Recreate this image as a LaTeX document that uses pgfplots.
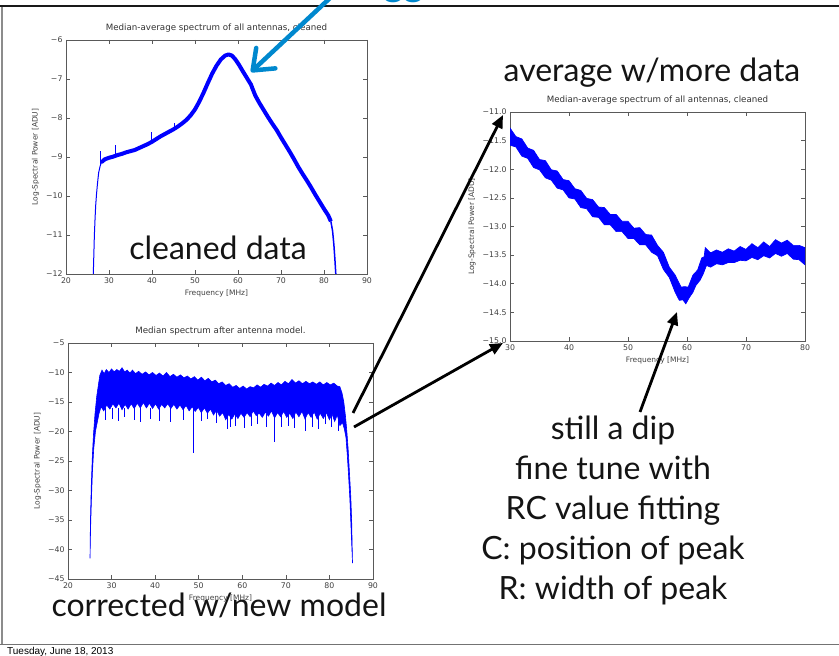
\documentclass[border=0pt]{standalone}
\usepackage{pgfplots}
\pgfplotsset{compat=1.18}
\usepackage{fontspec}
\usetikzlibrary{arrows.meta}
\newfontfamily\slidefont{Lato}
\newfontfamily\mplfont{DejaVu Sans}
\newfontfamily\datefont{Liberation Sans}
\definecolor{mplblue}{RGB}{0,0,255}
\definecolor{kblue}{RGB}{0,136,206}
\pgfplotsset{
  mpl/.style={
    scale only axis, anchor=south west,
    axis line style={black!65, line width=0.8pt},
    every tick/.style={black!65, line width=0.6pt},
    major tick length=4pt,
    tick align=inside,
    ticklabel style={font=\mplfont\fontsize{7.8}{9}\selectfont, text=black!75},
    label style={font=\mplfont\fontsize{7.5}{9}\selectfont, text=black!75},
    title style={font=\mplfont\fontsize{8.7}{10}\selectfont, text=black!80, inner sep=1pt},
    xlabel={Frequency [MHz]}, ylabel={Log-Spectral Power [ADU]},
    clip=true,
  },
}
\begin{document}
\begin{tikzpicture}[x=1pt,y=1pt]
\useasboundingbox (0,0) rectangle (839,656);
\clip (0,0) rectangle (839,656);

% top left: cleaned data
\begin{axis}[mpl, at={(66pt,382pt)}, width=301pt, height=234pt,
  xmin=20, xmax=90, ymin=-12, ymax=-6,
  xtick={20,30,...,90}, xticklabels={20,30,40,50,60,70,80,90},
  ytick={-12,-11,...,-6}, yticklabels={−12,−11,−10,−9,−8,−7,−6},
  title={Median-average spectrum of all antennas, cleaned}]
\addplot[mplblue, line width=1pt] coordinates {
  (26.3,-12.2) (26.45,-11.6) (26.6,-11.0) (26.75,-10.6) (26.9,-10.25)
  (27.1,-9.95) (27.35,-9.65) (27.6,-9.4) (27.9,-9.25) (28.2,-9.15)};
\addplot[mplblue, line width=4pt, line join=round, line cap=round] coordinates {
  (28.4,-9.12) (29,-9.06) (30,-9.02) (31,-8.99) (32,-8.95) (33,-8.92) (34,-8.88)
  (35,-8.85) (36,-8.82) (37,-8.77) (38,-8.72) (39,-8.67) (40,-8.61) (41,-8.54)
  (42,-8.47) (43,-8.41) (44,-8.35) (45,-8.29) (46,-8.22) (47,-8.14) (48,-8.05)
  (49,-7.93) (50,-7.78)};
\addplot[mplblue, line width=4pt, line join=round] coordinates {
  (50,-7.78) (51,-7.58) (52,-7.35) (53,-7.1) (54,-6.86) (55,-6.66) (56,-6.5)
  (57,-6.4) (57.8,-6.37) (58.6,-6.4) (59.4,-6.5) (60.2,-6.63) (61,-6.78)
  (62,-6.96) (63,-7.14) (64,-7.42) (65,-7.62) (66,-7.8) (67,-7.98) (68,-8.15)
  (69,-8.31) (70,-8.5) (71,-8.68) (72,-8.86) (73,-9.05) (74,-9.25) (75,-9.43)
  (76,-9.6) (77,-9.78) (78,-9.97) (79,-10.15) (80,-10.33) (81,-10.5) (81.6,-10.65)};
\addplot[mplblue, line width=1.5pt] coordinates {
  (81.6,-10.65) (82,-10.9) (82.3,-11.25) (82.55,-11.65) (82.8,-12.1)};
\addplot[mplblue, line width=0.7pt, unbounded coords=jump] coordinates {
  (27.9,-9.2) (27.9,-8.85) (27.9,nan)
  (31.4,-8.98) (31.4,-8.68) (31.4,nan)
  (39.9,-8.6) (39.9,-8.36) (39.9,nan)
  (45.2,-8.28) (45.2,-8.12) (45.2,nan)};
\end{axis}

% bottom left: corrected
\begin{axis}[mpl, at={(68pt,77pt)}, width=305pt, height=236pt,
  xmin=20, xmax=90, ymin=-45, ymax=-5,
  xtick={20,30,...,90}, xticklabels={20,30,40,50,60,70,80,90},
  ytick={-45,-40,...,-5}, yticklabels={−45,−40,−35,−30,−25,−20,−15,−10,−5},
  title={Median spectrum after antenna model.}]
\addplot[mplblue, fill=mplblue, line width=0.6pt] coordinates {
  (27.3,-10.5) (27.8,-9.6) (28.3,-10.2) (28.8,-9.5) (29.4,-10.0) (30,-9.4)
  (30.6,-9.9) (31.2,-9.5) (31.8,-9.8) (32.4,-9.2) (33,-9.9) (33.6,-9.6)
  (34.2,-10.1) (34.8,-9.6) (35.5,-10.2) (36.2,-9.8) (37,-10.3) (37.8,-9.9)
  (38.6,-10.4) (39.4,-10.0) (40.2,-10.5) (41,-10.1) (41.8,-10.6) (42.6,-10.0)
  (43.4,-10.7) (44.2,-10.3) (45,-10.8) (45.8,-10.4) (46.6,-10.9) (47.4,-10.6)
  (48.2,-11.1) (49,-10.7) (49.8,-11.3) (50.6,-10.8) (51.4,-11.4) (52.2,-11.0)
  (53,-11.6) (53.8,-11.3) (54.6,-11.9) (55.4,-11.6) (56.2,-12.2) (57,-11.9)
  (57.8,-12.5) (58.6,-12.2) (59.4,-12.7) (60.2,-12.3) (61,-12.8) (61.8,-12.4)
  (62.6,-12.6) (63.4,-12.1) (64.2,-12.5) (65,-12.0) (65.8,-12.3) (66.6,-11.8)
  (67.4,-12.2) (68.2,-11.7) (69,-12.1) (69.8,-11.5) (70.6,-11.9) (71.4,-11.2)
  (72.2,-11.8) (73,-11.4) (73.8,-11.9) (74.6,-11.5) (75.4,-11.9) (76.2,-11.6)
  (77,-12.0) (77.8,-11.6) (78.6,-12.1) (79.4,-11.7) (80.2,-12.1) (81,-11.8)
  (81.8,-12.3) (82.4,-12.4)
  (82.9,-13.5) (83.3,-15) (83.7,-17.5) (84.0,-20) (84.3,-23) (84.6,-27)
  (84.9,-31) (85.1,-35) (85.3,-42.3)
  (85.0,-37) (84.7,-31.5) (84.4,-27.5) (84.1,-24) (83.8,-21) (83.4,-19.5) (83.0,-18.5)
  (82.4,-19) (81.8,-17.2) (81.2,-18.3) (80.6,-17.0) (80,-18.0) (79.3,-16.8)
  (78.6,-17.8) (77.9,-16.9) (77.2,-17.9) (76.5,-16.7) (75.8,-17.6) (75.1,-16.8)
  (74.4,-17.9) (73.7,-16.6) (73,-17.5) (72.3,-16.7) (71.6,-17.8) (70.9,-16.9)
  (70.2,-17.6) (69.5,-16.6) (68.8,-17.5) (68.1,-16.8) (67.4,-17.7) (66.7,-16.5)
  (66,-17.4) (65.3,-16.7) (64.6,-17.6) (63.9,-16.9) (63.2,-17.3) (62.5,-16.5)
  (61.8,-17.5) (61.1,-16.8) (60.4,-17.6) (59.7,-16.9) (59,-17.8) (58.3,-17.0)
  (57.6,-17.9) (56.9,-17.1) (56.2,-18.0) (55.5,-16.8) (54.8,-17.4) (54.1,-16.4)
  (53.4,-17.2) (52.7,-16.2) (52,-16.9) (51.3,-16.0) (50.6,-16.8) (49.9,-15.9)
  (49.2,-16.6) (48.5,-15.8) (47.8,-16.5) (47.1,-15.6) (46.4,-16.3) (45.7,-15.5)
  (45,-16.2) (44.3,-15.4) (43.6,-16.1) (42.9,-15.3) (42.2,-16.0) (41.5,-15.4)
  (40.8,-16.2) (40.1,-15.3) (39.4,-16.1) (38.7,-15.2) (38,-16.0) (37.3,-15.1)
  (36.6,-16.0) (35.9,-15.2) (35.2,-16.1) (34.5,-15.3) (33.8,-16.2) (33.1,-15.4)
  (32.4,-16.3) (31.7,-15.2) (31,-16.0) (30.3,-15.3) (29.6,-16.2) (28.9,-15.5)
  (28.2,-16.5) (27.6,-15.8) (27.1,-17) (26.7,-18.5)
  (26.3,-20) (25.9,-23) (25.6,-27) (25.4,-31) (25.2,-36) (25.05,-41.5)
  (25.15,-35) (25.35,-29) (25.6,-24) (25.85,-20.5) (26.2,-17) (26.6,-14)
  (27,-12) (27.3,-10.5)} -- cycle;
\addplot[mplblue, line width=0.7pt, unbounded coords=jump] coordinates {
  (28.5,-16) (28.5,-18) (28.5,nan) (30.2,-16) (30.2,-17.9) (30.2,nan)
  (31.5,-16) (31.5,-18.3) (31.5,nan) (33,-16) (33,-17.5) (33,nan)
  (35.2,-16) (35.2,-18.1) (35.2,nan) (36.7,-16) (36.7,-18.4) (36.7,nan)
  (38.9,-16) (38.9,-17.8) (38.9,nan) (41,-16) (41,-18.2) (41,nan)
  (43.5,-16) (43.5,-18.4) (43.5,nan) (46.5,-16) (46.5,-18.0) (46.5,nan)
  (48.8,-16) (48.8,-23.6) (48.8,nan) (50.5,-16.5) (50.5,-18.2) (50.5,nan)
  (52,-16.5) (52,-17.9) (52,nan) (54,-16.5) (54,-18.5) (54,nan)
  (56.5,-17) (56.5,-19.5) (56.5,nan) (57.3,-17) (57.3,-19.2) (57.3,nan)
  (58.5,-17) (58.5,-19.0) (58.5,nan) (60.5,-17) (60.5,-19.4) (60.5,nan)
  (62,-17) (62,-19.0) (62,nan) (63.5,-17) (63.5,-18.8) (63.5,nan)
  (65.5,-17) (65.5,-19.3) (65.5,nan) (67.4,-17) (67.4,-21.7) (67.4,nan)
  (69,-17) (69,-19.2) (69,nan) (70.5,-17) (70.5,-19.0) (70.5,nan)
  (72,-17) (72,-19.4) (72,nan) (74.4,-17) (74.4,-20.0) (74.4,nan)
  (76,-17) (76,-19.3) (76,nan) (77.5,-17) (77.5,-19.5) (77.5,nan)
  (79,-17) (79,-18.7) (79,nan) (80.5,-17) (80.5,-19.3) (80.5,nan)
  (82,-17) (82,-20)};
\end{axis}

% right: average with more data
\begin{axis}[mpl, at={(510pt,315pt)}, width=295pt, height=229pt,
  xmin=30, xmax=80, ymin=-15, ymax=-11,
  xtick={30,40,...,80}, xticklabels={30,40,50,60,70,80},
  ytick={-15,-14.5,...,-11},
  yticklabels={−15.0,−14.5,−14.0,−13.5,−13.0,−12.5,−12.0,−11.5,−11.0},
  title={Median-average spectrum of all antennas, cleaned}]
\addplot[mplblue, fill=mplblue, line width=0.7pt] coordinates {
  (29.5,-11.24) (30,-11.28) (31,-11.43) (32,-11.47) (33,-11.63) (34,-11.67)
  (35,-11.83) (36,-11.85) (37,-12.01) (38,-12.03) (39,-12.18) (40,-12.2)
  (41,-12.34) (42,-12.37) (43,-12.51) (44,-12.53) (45,-12.66) (46,-12.67)
  (47,-12.79) (48,-12.79) (49,-12.91) (50,-12.91) (51,-13.03) (52,-13.02)
  (53,-13.14) (54,-13.15) (55,-13.33) (56,-13.45) (57,-13.71) (58,-13.85)
  (59,-14.06) (59.6,-14.05) (60.2,-14.06) (61,-13.85) (61.8,-13.76) (62.5,-13.55)
  (62.9,-13.53) (63.1,-13.37) (64,-13.46) (65,-13.41) (66,-13.45) (67,-13.39)
  (68,-13.43) (69,-13.35) (70,-13.4) (71,-13.3) (72,-13.37) (73,-13.27)
  (74,-13.35) (75,-13.23) (76,-13.29) (77,-13.24) (78,-13.33) (79,-13.33)
  (80,-13.37) (80.5,-13.4)
  (80.5,-13.68) (80,-13.67) (79,-13.58) (78,-13.57) (77,-13.47) (76,-13.52)
  (75,-13.47) (74,-13.55) (73,-13.51) (72,-13.58) (71,-13.54) (70,-13.6)
  (69,-13.59) (68,-13.63) (67,-13.63) (66,-13.67) (65,-13.65) (64,-13.71)
  (63.3,-13.68) (63.0,-13.76) (62.7,-13.84) (62.2,-13.94) (61.5,-14.03)
  (61,-14.15) (60.4,-14.24) (59.8,-14.35) (59.3,-14.28) (58.7,-14.29) (58,-14.15)
  (57,-13.89) (56,-13.75) (55,-13.51) (54,-13.45) (53,-13.32) (52,-13.32)
  (51,-13.21) (50,-13.21) (49,-13.09) (48,-13.09) (47,-12.97) (46,-12.97)
  (45,-12.84) (44,-12.83) (43,-12.69) (42,-12.67) (41,-12.52) (40,-12.5)
  (39,-12.36) (38,-12.33) (37,-12.19) (36,-12.15) (35,-12.01) (34,-11.97)
  (33,-11.81) (32,-11.77) (31,-11.61) (30,-11.58) (29.5,-11.53)} -- cycle;
\end{axis}

% slide decorations
\draw[black!55, line width=1.5pt] (0,11.5) -- (839,11.5);
\draw[black!45, line width=1.2pt] (2,11.5) -- (2,650);
\node[anchor=base west, text=kblue, inner sep=0pt, font=\slidefont\fontsize{40}{44}\selectfont] at (383,660.5) {gg};
\draw[black!90, line width=2pt] (0,650) -- (839,650);
\node[anchor=base west, inner sep=0pt, font=\datefont\fontsize{10}{12}\selectfont] at (7,1.5) {Tuesday, June 18, 2013};

\begin{scope}[font=\slidefont\fontsize{32}{36}\selectfont, every node/.style={anchor=base, inner sep=0pt, text=black!92}]
\node at (652,574) {average w/more data};
\node at (218,396) {cleaned data};
\node at (219,39) {corrected w/new model};
\node at (613,216) {still a dip};
\node at (613,176) {fine tune with};
\node at (613,136) {RC value fitting};
\node at (613,96) {C: position of peak};
\node at (613,56) {R: width of peak};
\end{scope}

\draw[kblue, line width=4.5pt, -{Straight Barb[length=18pt,width=28pt,round]}] (345,672) -- (251,584);
\begin{scope}[black, line width=2.8pt, -{Triangle[length=13pt,width=11pt]}]
\draw (353,243) -- (503,541);
\draw (354,229) -- (503,313);
\draw (640,244) -- (677,344);
\end{scope}
\end{tikzpicture}
\end{document}
